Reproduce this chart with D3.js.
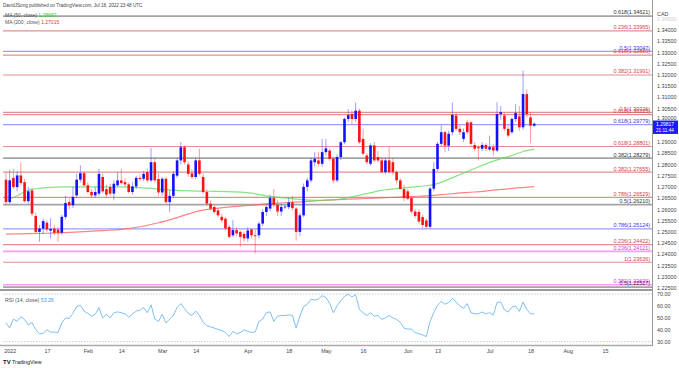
<!DOCTYPE html>
<html><head><meta charset="utf-8">
<script src="https://cdn.jsdelivr.net/npm/d3@7/dist/d3.min.js"></script>
<style>body{margin:0;background:#fff}svg{display:block;font-family:"Liberation Sans",Arial,sans-serif}</style>
</head><body><svg id="c" width="679" height="368"></svg>
<script>
// ---------- DATA ----------
const firstDate = "2021-12-31"; // first bar (weekday bars, USDCAD daily)
const opens  = [1.2732,1.2632,1.2740,1.2699,1.2751,1.2721,1.2636,1.2684,1.2570,1.2499,1.2514,1.2540,1.2505,1.2514,1.2509,1.2495,1.2566,1.2632,1.2618,1.2662,1.2732,1.2761,1.2707,1.2677,1.2662,1.2670,1.2744,1.2690,1.2699,1.2670,1.2707,1.2729,1.2721,1.2711,1.2677,1.2702,1.2740,1.2736,1.2766,1.2729,1.2810,1.2735,1.2675,1.2736,1.2632,1.2660,1.2750,1.2818,1.2877,1.2800,1.2760,1.2744,1.2818,1.2744,1.2677,1.2625,1.2610,1.2595,1.2566,1.2558,1.2521,1.2484,1.2507,1.2499,1.2490,1.2470,1.2510,1.2484,1.2484,1.2536,1.2588,1.2603,1.2650,1.2620,1.2590,1.2610,1.2610,1.2630,1.2603,1.2499,1.2573,1.2700,1.2729,1.2810,1.2818,1.2803,1.2855,1.2862,1.2825,1.2729,1.2833,1.2899,1.3003,1.3025,1.3003,1.3040,1.2914,1.2840,1.2803,1.2885,1.2833,1.2818,1.2766,1.2818,1.2810,1.2766,1.2729,1.2690,1.2680,1.2650,1.2590,1.2588,1.2565,1.2550,1.2522,1.2692,1.2780,1.2892,1.2944,1.2884,1.2944,1.3018,1.2959,1.2914,1.2988,1.2988,1.2887,1.2877,1.2870,1.2887,1.2867,1.2877,1.2862,1.3025,1.3018,1.2959,1.2944,1.3003,1.3015,1.2966,1.3114,1.3010,1.2973];
const highs  = [1.2766,1.2776,1.2780,1.2770,1.2810,1.2735,1.2700,1.2695,1.2585,1.2530,1.2558,1.2550,1.2560,1.2530,1.2520,1.2575,1.2660,1.2650,1.2700,1.2758,1.2796,1.2770,1.2720,1.2690,1.2700,1.2780,1.2760,1.2710,1.2715,1.2730,1.2766,1.2781,1.2740,1.2720,1.2720,1.2750,1.2755,1.2770,1.2780,1.2874,1.2830,1.2760,1.2745,1.2745,1.2684,1.2770,1.2830,1.2900,1.2885,1.2815,1.2780,1.2830,1.2870,1.2760,1.2690,1.2640,1.2620,1.2605,1.2580,1.2565,1.2530,1.2551,1.2520,1.2505,1.2500,1.2520,1.2515,1.2510,1.2545,1.2600,1.2620,1.2665,1.2690,1.2640,1.2625,1.2620,1.2650,1.2660,1.2610,1.2585,1.2715,1.2740,1.2830,1.2855,1.2855,1.2914,1.2914,1.2870,1.2835,1.2845,1.2905,1.3010,1.3047,1.3040,1.3077,1.3050,1.2960,1.2850,1.2895,1.2900,1.2860,1.2830,1.2830,1.2877,1.2830,1.2775,1.2740,1.2710,1.2690,1.2660,1.2600,1.2600,1.2575,1.2560,1.2700,1.2810,1.2900,1.2974,1.2950,1.2950,1.3077,1.3030,1.2975,1.2960,1.3000,1.2995,1.2900,1.2885,1.2900,1.2895,1.2929,1.2890,1.3077,1.3060,1.3030,1.2975,1.3010,1.3070,1.3060,1.3218,1.3135,1.3035,1.2988];
const lows   = [1.2617,1.2625,1.2690,1.2680,1.2705,1.2630,1.2625,1.2570,1.2495,1.2455,1.2490,1.2500,1.2470,1.2485,1.2455,1.2485,1.2555,1.2600,1.2605,1.2650,1.2720,1.2700,1.2670,1.2650,1.2650,1.2660,1.2670,1.2650,1.2660,1.2640,1.2700,1.2710,1.2700,1.2670,1.2665,1.2690,1.2725,1.2725,1.2720,1.2720,1.2720,1.2660,1.2660,1.2625,1.2588,1.2650,1.2740,1.2800,1.2800,1.2745,1.2735,1.2735,1.2750,1.2670,1.2615,1.2595,1.2580,1.2565,1.2540,1.2505,1.2470,1.2475,1.2480,1.2432,1.2455,1.2455,1.2470,1.2403,1.2470,1.2525,1.2570,1.2590,1.2610,1.2570,1.2570,1.2600,1.2600,1.2595,1.2460,1.2480,1.2565,1.2680,1.2720,1.2790,1.2790,1.2790,1.2840,1.2815,1.2715,1.2720,1.2820,1.2890,1.2990,1.2980,1.2990,1.2890,1.2840,1.2800,1.2795,1.2810,1.2810,1.2760,1.2755,1.2760,1.2755,1.2715,1.2690,1.2635,1.2640,1.2580,1.2560,1.2535,1.2515,1.2514,1.2515,1.2680,1.2770,1.2880,1.2855,1.2860,1.2930,1.2950,1.2930,1.2900,1.2935,1.2880,1.2860,1.2818,1.2860,1.2860,1.2860,1.2840,1.2855,1.3000,1.2950,1.2920,1.2935,1.2990,1.2950,1.2955,1.3010,1.2896,1.2968];
const closes = [1.2632,1.2729,1.2699,1.2751,1.2717,1.2636,1.2680,1.2580,1.2499,1.2514,1.2547,1.2510,1.2512,1.2495,1.2495,1.2566,1.2628,1.2618,1.2655,1.2732,1.2761,1.2707,1.2677,1.2662,1.2677,1.2758,1.2680,1.2665,1.2670,1.2714,1.2729,1.2717,1.2711,1.2677,1.2702,1.2740,1.2735,1.2758,1.2729,1.2810,1.2729,1.2675,1.2736,1.2632,1.2660,1.2758,1.2818,1.2877,1.2810,1.2758,1.2744,1.2818,1.2758,1.2677,1.2625,1.2603,1.2588,1.2573,1.2551,1.2514,1.2477,1.2507,1.2492,1.2477,1.2470,1.2505,1.2484,1.2480,1.2536,1.2588,1.2610,1.2650,1.2620,1.2590,1.2610,1.2612,1.2630,1.2605,1.2499,1.2573,1.2700,1.2729,1.2818,1.2825,1.2803,1.2855,1.2872,1.2825,1.2729,1.2833,1.2899,1.3003,1.3020,1.3003,1.3040,1.2899,1.2848,1.2810,1.2885,1.2818,1.2818,1.2766,1.2818,1.2766,1.2766,1.2729,1.2690,1.2650,1.2647,1.2590,1.2570,1.2545,1.2530,1.2522,1.2692,1.2780,1.2892,1.2944,1.2884,1.2937,1.3021,1.2959,1.2944,1.2944,1.2944,1.2892,1.2870,1.2872,1.2887,1.2870,1.2877,1.2862,1.3025,1.3033,1.2959,1.2929,1.3003,1.3030,1.2966,1.3114,1.3025,1.2973,1.29817];
const rsi14  = [45.7,41.4,49,47,51,48.6,44,46,40,36.6,37,40,38,38,37.7,45.7,50,49.4,54,59.4,60.6,55.7,53.7,51.4,53,58.6,50,53,50,54.3,55,54.3,53.4,50.6,53,55.7,56.3,58.6,54.3,
  60.9,49,47,53,45.7,49,52,58.6,62,57.7,53.7,52,55.7,52,46.3,43.4,42.4,41.4,40.4,39.4,37.7,34.3,38.6,36.6,37.7,40,38.6,37.7,38.2,47,49,54.3,55,47,51.4,52,52,52.5,52,
  41.4,51.4,59.4,61.4,65.7,65,65.7,68.6,67,62.3,54.3,60,64.3,68,70,67.5,69.4,57.1,54.3,52,54.3,51.4,52,48.6,50,52,50,48.6,46.3,41.4,40.6,40.6,37.7,36.6,35.7,34.3,47,54.3,60.6,63.7,61.4,62.9,66.3,63.4,60,58,62,54.3,53.4,53.4,54.9,53.4,54.3,52.3,62.9,63.4,56.6,54.9,59,60,55.4,63.4,57,53.4,53.26];
// moving averages read at sample bars (bar index from first bar)
const maBars = [0,3,6,11,16,21,26,31,36,41,46,52,56,61,66,70,74,79,84,88,92,97,101,106,111,115,117,121,126,131,136,139,142];
const ma50   = [1.2638,1.2660,1.2685,1.2697,1.2700,1.2700,1.2700,1.2700,1.2697,1.2690,1.2684,1.2681,1.2680,1.2678,1.2672,1.2660,1.2652,1.2644,1.2640,1.2642,1.2652,1.2670,1.2684,1.2694,1.2702,1.2710,1.2720,1.2748,1.2782,1.2815,1.2840,1.2858,1.28687];
const ma200  = [1.2489,1.2490,1.2491,1.2493,1.2496,1.2500,1.2505,1.2510,1.2522,1.2540,1.2563,1.2593,1.2603,1.2612,1.2618,1.2624,1.2628,1.2633,1.2638,1.2642,1.2645,1.2648,1.2651,1.2654,1.2658,1.2662,1.2665,1.2671,1.2677,1.2685,1.2693,1.2697,1.27015];
// fibonacci retracement levels
const fibRatios = ["0.618","0.236","0.5","0.618","0.382","0.5","0.618","0.618","0.618","0.382","0.382","0.786","0.5","0.786","0.236","0.236","1","0.382","0.5"];
const fibPrices = [1.34621,1.33965,1.33047,1.32880,1.31991,1.30326,1.30225,1.29779,1.28801,1.28279,1.27655,1.26529,1.26210,1.25124,1.24422,1.24121,1.23636,1.22629,1.22527];
const fibSet    = ["gray","red","blue","red","red","red","red","blue","red","gray","red","red","gray","blue","red","pink","red","pink","gray"];
const priceTicks = [1.345,1.34,1.335,1.33,1.325,1.32,1.315,1.31,1.305,1.30,1.29,1.285,1.28,1.275,1.27,1.265,1.26,1.255,1.25,1.245,1.24,1.235,1.23,1.225];
const rsiTicks = [70,60,50,40,30];
const timeTickDates  = ["2022-01-03","2022-01-17","2022-02-01","2022-02-14","2022-03-01","2022-03-14","2022-04-01","2022-04-18","2022-05-02","2022-05-16","2022-06-01","2022-06-13","2022-07-01","2022-07-18","2022-08-01","2022-08-15"];
const timeTickLabels = ["2022","17","Feb","14","Mar","14","Apr","18","May","16","Jun","13","Jul","18","Aug","15"];
const lastPrice = "1.29817", countdown = "21:11:44";
const ma50Last = "1.28687", ma200Last = "1.27015", rsiLast = "53.26";

// ---------- STYLE ----------
const fibStyle = {
  red:  {line:"rgba(205,70,70,0.6)", text:"#c44", w:1.2},
  blue: {line:"rgba(90,90,255,0.6)", text:"#3535ee", w:1.2},
  gray: {line:"rgba(90,90,90,0.55)", text:"#333", w:1.8},
  pink: {line:"rgba(255,90,255,0.6)", text:"#e030e0", w:1.6}
};
const upBody="#1111ff", dnBody="#ff1111", upWick="rgba(60,60,255,0.5)", dnWick="rgba(255,60,60,0.5)";

// ---------- HELPERS ----------
function barIndex(ds){ // weekday count from firstDate
  let d=new Date(firstDate+"T00:00:00Z"), t=new Date(ds+"T00:00:00Z"), n=0;
  while(d<t){ d=new Date(d.getTime()+864e5); const w=d.getUTCDay(); if(w!==0&&w!==6) n++; }
  return n;
}
const svg=d3.select("#c");
const PL=3, PR=652, PT=0, PB=289;
const x=d3.scaleLinear().domain([0,141]).range([5.98,530.5]);
const y=d3.scaleLinear().domain([1.34,1.225]).range([30,287.7]);
const yR=d3.scaleLinear().domain([70,30]).range([294,341.7]);

svg.append("defs").append("clipPath").attr("id","mc").append("rect").attr("x",PL).attr("y",PT).attr("width",PR-PL).attr("height",PB-PT);
const main=svg.append("g").attr("clip-path","url(#mc)");

// fib lines
fibPrices.forEach((p,i)=>{
  const s=fibStyle[fibSet[i]];
  main.append("line").attr("x1",PL).attr("x2",PR).attr("y1",y(p)).attr("y2",y(p)).attr("stroke",s.line).attr("stroke-width",s.w);
});
// MAs
const maLine=d3.line().x(d=>x(d[0])).y(d=>y(d[1])).curve(d3.curveMonotoneX);
main.append("path").attr("d",maLine(maBars.map((b,i)=>[b,ma200[i]]))).attr("fill","none").attr("stroke","rgba(255,90,90,0.75)").attr("stroke-width",1.2);
main.append("path").attr("d",maLine(maBars.map((b,i)=>[b,ma50[i]]))).attr("fill","none").attr("stroke","rgba(90,220,90,0.75)").attr("stroke-width",1.2);
// candles
const bars=closes.map((c,i)=>({i,o:opens[i],h:highs[i],l:lows[i],c}));
main.selectAll("line.w").data(bars).join("line").attr("class","w")
  .attr("x1",d=>x(d.i)).attr("x2",d=>x(d.i)).attr("y1",d=>y(d.h)).attr("y2",d=>y(d.l))
  .attr("stroke",d=>d.c>=d.o?upWick:dnWick).attr("stroke-width",1);
main.selectAll("rect.b").data(bars).join("rect").attr("class","b")
  .attr("x",d=>x(d.i)-1.3).attr("width",2.6)
  .attr("y",d=>y(Math.max(d.o,d.c))).attr("height",d=>Math.max(0.8,Math.abs(y(d.o)-y(d.c))))
  .attr("fill",d=>d.c>=d.o?upBody:dnBody);
// fib labels
fibPrices.forEach((p,i)=>{
  const s=fibStyle[fibSet[i]];
  svg.append("text").attr("x",650).attr("y",y(p)-1.6).attr("text-anchor","end")
    .attr("font-size",5.4).attr("fill",s.text).text(fibRatios[i]+"("+p.toFixed(5)+")");
});

// frame lines
svg.append("line").attr("x1",PR+0.5).attr("x2",PR+0.5).attr("y1",0).attr("y2",346).attr("stroke","#999").attr("stroke-width",1);
svg.append("line").attr("x1",0).attr("x2",PR).attr("y1",290).attr("y2",290).attr("stroke","#999").attr("stroke-width",2);
svg.append("line").attr("x1",0).attr("x2",PR).attr("y1",345.5).attr("y2",345.5).attr("stroke","#aaa").attr("stroke-width",1.5);

// price axis
const yp=y(+lastPrice);
const pAxis=svg.append("g").attr("transform",`translate(${PR},0)`)
  .call(d3.axisRight(y).tickValues(priceTicks).tickFormat(d3.format(".5f")).tickSize(0).tickPadding(5));
pAxis.select(".domain").remove();
pAxis.selectAll("text").attr("font-size",5.4).attr("fill",(d)=>d>1.3425?"#ccc":"#444").attr("font-family","Liberation Sans, Arial")
  .attr("dy",d=>Math.abs(y(d)-yp)<6?"-0.1em":"0.32em");
svg.append("text").attr("x",657).attr("y",16).attr("font-size",5.4).attr("fill","#444").text("CAD");
// last price tag
svg.append("rect").attr("x",PR+1).attr("y",yp-3.2).attr("width",25).attr("height",13.4).attr("fill","#1a1aff");
svg.append("text").attr("x",PR+4).attr("y",yp+1.8).attr("font-size",5).attr("fill","#fff").text(lastPrice);
svg.append("text").attr("x",PR+4).attr("y",yp+8.6).attr("font-size",4.7).attr("fill","#fff").text(countdown);

// RSI panel
const rsiG=svg.append("g");
[70,30].forEach(v=>rsiG.append("line").attr("x1",PL).attr("x2",PR).attr("y1",yR(v)).attr("y2",yR(v)).attr("stroke","#bbb").attr("stroke-width",0.8).attr("stroke-dasharray","1.5,1.5"));
rsiG.append("path").attr("d",d3.line().x((d,i)=>x(i)).y(d=>yR(d))(rsi14)).attr("fill","none").attr("stroke","#7ec0f2").attr("stroke-width",1);
const rAxis=svg.append("g").attr("transform",`translate(${PR},0)`)
  .call(d3.axisRight(yR).tickValues(rsiTicks).tickFormat(d3.format(".2f")).tickSize(0).tickPadding(5));
rAxis.select(".domain").remove();
rAxis.selectAll("text").attr("font-size",5.4).attr("fill","#444").attr("font-family","Liberation Sans, Arial");
const rl=svg.append("text").attr("x",5).attr("y",302).attr("font-size",5.2);
rl.append("tspan").attr("fill","#555").text("RSI (14, close) ");
rl.append("tspan").attr("fill","#2a9df4").text(rsiLast);

// time axis
const tAxis=svg.append("g").attr("transform","translate(0,346)")
  .call(d3.axisBottom(x).tickValues(timeTickDates.map(barIndex)).tickFormat((d,i)=>timeTickLabels[i]).tickSize(0).tickPadding(3));
tAxis.select(".domain").remove();
tAxis.selectAll("text").attr("font-size",5.4).attr("fill","#444").attr("font-family","Liberation Sans, Arial");

// header & legends
svg.append("text").attr("x",3).attr("y",7).attr("font-size",4.6).attr("fill","#444").text("DavidJSong published on TradingView.com, Jul 18, 2022 23:48 UTC");
const l1=svg.append("text").attr("x",5).attr("y",16.5).attr("font-size",5);
l1.append("tspan").attr("fill","#555").text("MA (50, close) ");
l1.append("tspan").attr("fill","#2bd42b").text(ma50Last);
const l2=svg.append("text").attr("x",5).attr("y",24).attr("font-size",5);
l2.append("tspan").attr("fill","#555").text("MA (200, close) ");
l2.append("tspan").attr("fill","#f03030").text(ma200Last);

// logo
const lg=svg.append("g");
lg.append("text").attr("x",3).attr("y",364).attr("font-size",6).attr("font-weight","bold").attr("fill","#131722").text("TV");
lg.append("text").attr("x",12).attr("y",364).attr("font-size",5.4).attr("fill","#131722").text("TradingView");
</script></body></html>
